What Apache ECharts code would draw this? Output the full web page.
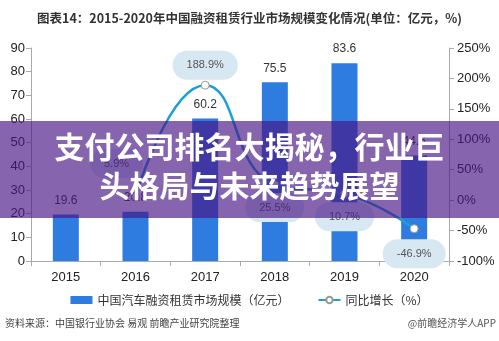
<!DOCTYPE html>
<html><head><meta charset="utf-8">
<script src="https://cdn.jsdelivr.net/npm/echarts@6/dist/echarts.min.js"></script>
<style>html,body{margin:0;padding:0;background:#fff}#c{width:499px;height:341px}</style>
</head><body><div id="c"></div>
<script>
const years = ['2015','2016','2017','2018','2019','2020'];
const marketSize = [19.6, 20.8, 60.2, 75.5, 83.6, 44.6];
const growth = [null, 5.9, 188.9, 25.5, 10.7, -46.9];
const leftTicks = [0, 90, 10];
const rightTicks = [-100, 250, 50];

const labelOffsets = [[0,0],[-19,-33],[0,-20],[0,23],[0,23],[0,25]];
const font = '"Liberation Sans","Noto Sans CJK SC",sans-serif';
const cjk = '"Noto Sans CJK SC",sans-serif';

const chart = echarts.init(document.getElementById('c'), null, {renderer:'canvas'});
chart.setOption({
  animation:false,
  backgroundColor:'#fff',
  title:{text:'图表14：2015-2020年中国融资租赁行业市场规模变化情况(单位：亿元，%)',left:'center',top:7,
    textStyle:{fontFamily:cjk,fontSize:12.5,fontWeight:'bold',color:'#333'}},
  grid:{left:31,right:50,top:48,bottom:80},
  legend:{bottom:30,left:'center',itemGap:28,itemWidth:22,itemHeight:8,
    textStyle:{fontFamily:cjk,fontSize:12,color:'#333'},
    data:[{name:'中国汽车融资租赁市场规模（亿元）',icon:'rect'},{name:'同比增长（%）'}]},
  xAxis:{type:'category',data:years,
    axisLine:{lineStyle:{color:'#aaa'}},axisTick:{show:true,lineStyle:{color:'#aaa'}},
    axisLabel:{color:'#222',fontSize:13,fontFamily:font,margin:10}},
  yAxis:[
    {type:'value',min:leftTicks[0],max:leftTicks[1],interval:leftTicks[2],
     axisLine:{show:true,lineStyle:{color:'#aaa'}},axisTick:{show:true,lineStyle:{color:'#aaa'}},
     splitLine:{show:false},axisLabel:{color:'#222',fontSize:13,fontFamily:font,margin:6}},
    {type:'value',min:rightTicks[0],max:rightTicks[1],interval:rightTicks[2],
     axisLine:{show:true,lineStyle:{color:'#aaa'}},axisTick:{show:true,lineStyle:{color:'#aaa'}},
     splitLine:{show:false},axisLabel:{color:'#222',fontSize:13,fontFamily:font,margin:8,formatter:'{value}%'}}
  ],
  series:[
    {name:'中国汽车融资租赁市场规模（亿元）',type:'bar',data:marketSize,barWidth:26,
     itemStyle:{color:'#2f7ce0'},
     label:{show:true,position:'top',distance:8,color:'#333',fontSize:12,fontFamily:font}},
    {name:'同比增长（%）',type:'line',yAxisIndex:1,smooth:0.5,
     data:growth.map((v,i)=>({value:v,label:{offset:labelOffsets[i]}})),
     lineStyle:{color:'#1a9fd6',width:2.5},itemStyle:{color:'#fff',borderColor:'#999',borderWidth:1},
     symbol:'circle',symbolSize:8,showSymbol:true,z:5,
     label:{show:true,position:'inside',formatter:p=>p.value==null?'':p.value.toFixed(1)+'%',
       color:'#555',fontSize:11,fontFamily:font,backgroundColor:'#d8e8f2',
       padding:[9,14],borderRadius:30}}
  ],
  graphic:[
    {type:'rect',left:0,top:121,shape:{width:499,height:97},z:100,
     style:{fill:'rgba(72,22,132,0.66)'}},
    {type:'text',left:'center',top:132,z:101,
     style:{text:'支付公司排名大揭秘，行业巨',fill:'#fff',font:'bold 30px "Noto Sans CJK SC",sans-serif'}},
    {type:'text',left:'center',top:171,z:101,
     style:{text:'头格局与未来趋势展望',fill:'#fff',font:'bold 30px "Noto Sans CJK SC",sans-serif'}},
    {type:'text',left:5,top:318,z:10,
     style:{text:'资料来源：中国银行业协会 易观 前瞻产业研究院整理',fill:'#444',font:'10px "Noto Sans CJK SC",sans-serif'}},
    {type:'text',right:3,top:318,z:10,
     style:{text:'@前瞻经济学人APP',fill:'#555',font:'10px "Noto Sans CJK SC",sans-serif'}}
  ]
});
</script></body></html>
